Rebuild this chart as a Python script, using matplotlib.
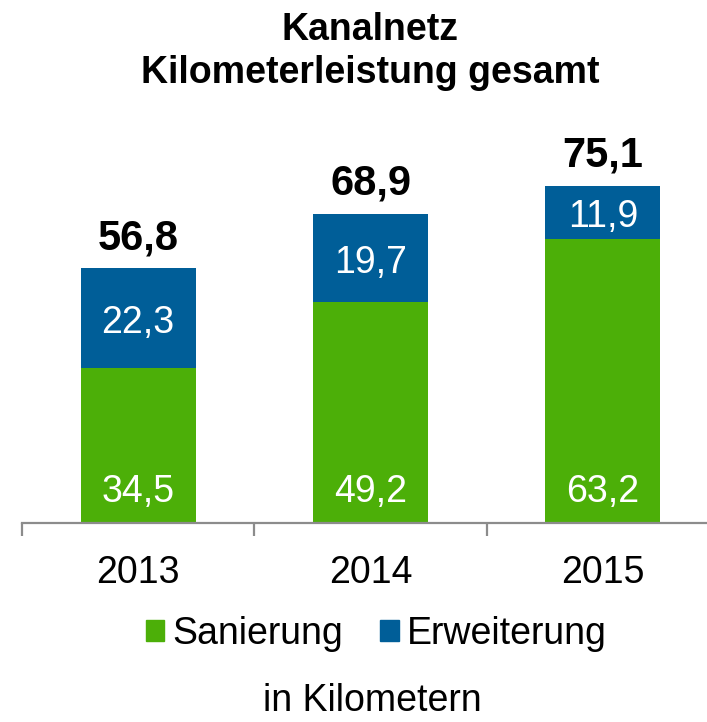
import numpy as np
import matplotlib.pyplot as plt
from matplotlib.patches import Patch

plt.rcParams['font.family'] = ['Liberation Sans', 'DejaVu Sans']

years = ['2013', '2014', '2015']
sanierung = [34.5, 49.2, 63.2]
erweiterung = [22.3, 19.7, 11.9]
gesamt = [56.8, 68.9, 75.1]

green = '#4CAF08'
blue = '#005E98'

fig = plt.figure(figsize=(7.07, 7.22), dpi=100)
ax = fig.add_axes([22/707, 199/722, 697/707, 448.7/722])

x = np.arange(len(years))
w = 0.495
ax.bar(x, sanierung, w, color=green)
ax.bar(x, erweiterung, w, bottom=sanierung, color=blue)

for i in range(len(years)):
    ax.text(x[i], 6.9, f'{sanierung[i]:.1f}'.replace('.', ','), ha='center', va='center',
            color='white', fontsize=27)
    ax.text(x[i], sanierung[i] + erweiterung[i] / 2 - 1.0, f'{erweiterung[i]:.1f}'.replace('.', ','),
            ha='center', va='center', color='white', fontsize=27)
    ax.text(x[i], gesamt[i] + 6.7, f'{gesamt[i]:.1f}'.replace('.', ','), ha='center', va='center',
            color='black', fontsize=30, fontweight='bold')

ax.set_xlim(-0.5, 2.5)
ax.set_ylim(0, 100)
ax.set_yticks([])
for s in ['top', 'right', 'left']:
    ax.spines[s].set_visible(False)
ax.spines['bottom'].set_color('#8c8c8c')
ax.spines['bottom'].set_linewidth(1.6)

ax.set_xticks([-0.5, 0.5, 1.5, 2.5])
ax.set_xticklabels([])
ax.tick_params(axis='x', length=9, width=1.6, color='#8c8c8c')
ax.set_xticks(x, minor=True)
ax.set_xticklabels(years, minor=True, fontsize=27)
ax.tick_params(axis='x', which='minor', length=0, pad=23)

fig.text(370/707, 1 - 30/722, 'Kanalnetz', ha='center', va='center', fontsize=27, fontweight='bold')
fig.text(370/707, 1 - 73/722, 'Kilometerleistung gesamt', ha='center', va='center', fontsize=27, fontweight='bold')

handles = [Patch(color=green), Patch(color=blue)]
fig.legend(handles, ['Sanierung', 'Erweiterung'], loc='center', bbox_to_anchor=(376/707, 1 - 634/722),
           ncol=2, frameon=False, fontsize=27, handlelength=0.5, handleheight=0.5,
           handletextpad=0.2, columnspacing=1.0)

fig.text(372/707, 1 - 701/722, 'in Kilometern', ha='center', va='center', fontsize=27)

fig.savefig('out.png', dpi=100)
